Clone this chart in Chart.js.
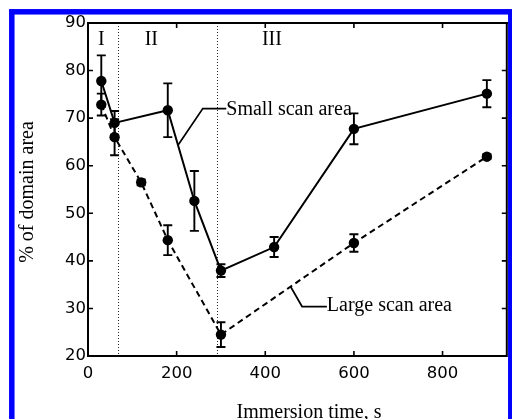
<!DOCTYPE html>
<html><head><meta charset="utf-8">
<script src="https://cdn.jsdelivr.net/npm/chart.js@4.4.0/dist/chart.umd.min.js"></script>
<style>html,body{margin:0;padding:0;background:#fff;}canvas{display:block;}</style>
</head><body>
<canvas id="c" width="512" height="419"></canvas>
<script>
// ---- data ----
const smallTime = [30, 60, 180, 240, 300, 420, 600, 900];
const smallArea = [77.8, 69.0, 71.65, 52.6, 37.95, 42.9, 67.75, 75.15];
const smallErr  = [5.4, 2.5, 5.65, 6.3, 1.35, 2.1, 3.25, 2.85];
const largeTime = [30, 60, 120, 180, 300, 600, 900];
const largeArea = [72.85, 66.0, 56.5, 44.35, 24.5, 43.75, 61.9];
const largeErr  = [2.3, 3.8, 0.6, 3.15, 2.6, 1.85, 0.5];
const regionBounds = [68, 290];
const regionLabels = ['I', 'II', 'III'];
const xTickValues = [0, 200, 400, 600, 800];
const yTickValues = [20, 30, 40, 50, 60, 70, 80, 90];
const seriesNames = ['Small scan area', 'Large scan area'];
const xTitle = 'Immersion time, s';
const yTitle = '% of domain area';

// ---- layout (data coordinates for annotations) ----
const regionLabelPos = [[30, 86.4], [143, 86.4], [415, 86.4]];
const smallLeader = [[203, 64.3], [259, 72.0], [312, 72.0]];
const largeLeader = [[457, 34.6], [483, 30.4], [539, 30.4]];

const SERIF = '"Liberation Serif","Times New Roman",serif';
const SANS = '"DejaVu Sans","Liberation Sans",sans-serif';

function pts(xs, ys) { return xs.map((x, i) => ({x: x, y: ys[i]})); }

const decor = {
  id: 'decor',
  beforeDatasetsDraw(chart) {
    const ctx = chart.ctx, xs = chart.scales.x, ys = chart.scales.y, a = chart.chartArea;
    ctx.save();
    // dotted region boundaries
    ctx.strokeStyle = '#222';
    ctx.lineWidth = 1;
    ctx.setLineDash([1, 2]);
    regionBounds.forEach(b => {
      const px = Math.round(xs.getPixelForValue(b)) + 0.5;
      ctx.beginPath(); ctx.moveTo(px, a.top); ctx.lineTo(px, a.bottom); ctx.stroke();
    });
    ctx.setLineDash([]);
    // error bars
    ctx.strokeStyle = '#000';
    ctx.lineWidth = 1.9;
    const bars = (t, v, e) => t.forEach((tt, i) => {
      const px = xs.getPixelForValue(tt);
      const y1 = ys.getPixelForValue(v[i] + e[i]);
      const y2 = ys.getPixelForValue(v[i] - e[i]);
      ctx.beginPath();
      ctx.moveTo(px, y1); ctx.lineTo(px, y2);
      ctx.moveTo(px - 4.5, y1); ctx.lineTo(px + 4.5, y1);
      ctx.moveTo(px - 4.5, y2); ctx.lineTo(px + 4.5, y2);
      ctx.stroke();
    });
    bars(smallTime, smallArea, smallErr);
    bars(largeTime, largeArea, largeErr);
    ctx.restore();
  },
  afterDraw(chart) {
    const ctx = chart.ctx, xs = chart.scales.x, ys = chart.scales.y, a = chart.chartArea;
    ctx.save();
    ctx.strokeStyle = '#000';
    ctx.lineWidth = 2;
    // top and right spines
    ctx.beginPath();
    ctx.moveTo(a.left - 1, a.top); ctx.lineTo(a.right + 2, a.top);
    ctx.moveTo(a.right, a.top); ctx.lineTo(a.right, a.bottom + 1);
    ctx.stroke();
    // inward ticks
    ctx.lineWidth = 1.6;
    ctx.beginPath();
    xs.ticks.forEach(t => {
      const px = xs.getPixelForValue(t.value);
      if (px <= a.left + 1) return;
      ctx.moveTo(px, a.bottom); ctx.lineTo(px, a.bottom - 5);
      ctx.moveTo(px, a.top); ctx.lineTo(px, a.top + 5);
    });
    ys.ticks.forEach(t => {
      const py = ys.getPixelForValue(t.value);
      if (py >= a.bottom - 1 || py <= a.top + 1) return;
      ctx.moveTo(a.left, py); ctx.lineTo(a.left + 5, py);
      ctx.moveTo(a.right, py); ctx.lineTo(a.right - 5, py);
    });
    ctx.stroke();
    // leaders
    ctx.lineWidth = 1.7;
    [smallLeader, largeLeader].forEach(L => {
      ctx.beginPath();
      L.forEach((p, i) => {
        const px = xs.getPixelForValue(p[0]), py = ys.getPixelForValue(p[1]);
        if (i === 0) ctx.moveTo(px, py); else ctx.lineTo(px, py);
      });
      ctx.stroke();
    });
    // texts
    ctx.fillStyle = '#000';
    ctx.font = '20px ' + SERIF;
    ctx.textBaseline = 'middle';
    ctx.textAlign = 'center';
    regionLabels.forEach((s, i) => {
      ctx.fillText(s, xs.getPixelForValue(regionLabelPos[i][0]), ys.getPixelForValue(regionLabelPos[i][1]));
    });
    ctx.textAlign = 'left';
    ctx.fillText(seriesNames[0], xs.getPixelForValue(smallLeader[2][0]), ys.getPixelForValue(smallLeader[2][1]) + 1);
    ctx.fillText(seriesNames[1], xs.getPixelForValue(largeLeader[2][0]), ys.getPixelForValue(largeLeader[2][1]) - 1);
    // axis titles
    ctx.textAlign = 'center';
    ctx.textBaseline = 'alphabetic';
    ctx.fillText(xTitle, 309, 418);
    ctx.save();
    ctx.translate(33, 192);
    ctx.rotate(-Math.PI / 2);
    ctx.fillText(yTitle, 0, 0);
    ctx.restore();
    // blue frame
    ctx.strokeStyle = '#0000ff';
    ctx.lineWidth = 5.5;
    ctx.strokeRect(11.8, 11.8, 499, 500);
    ctx.restore();
  }
};

new Chart(document.getElementById('c'), {
  type: 'line',
  data: {
    datasets: [
      { label: seriesNames[0], data: pts(smallTime, smallArea), borderColor: '#000', backgroundColor: '#000',
        borderWidth: 2, pointRadius: 5.2, pointBackgroundColor: '#000', pointBorderWidth: 0, tension: 0 },
      { label: seriesNames[1], data: pts(largeTime, largeArea), borderColor: '#000', backgroundColor: '#000',
        borderWidth: 2, borderDash: [6, 4], pointRadius: 5.2, pointBackgroundColor: '#000', pointBorderWidth: 0, tension: 0 }
    ]
  },
  options: {
    responsive: false, animation: false, devicePixelRatio: 1,
    layout: { padding: { top: 23, right: 5, left: 0, bottom: 0 } },
    plugins: { legend: { display: false }, tooltip: { enabled: false } },
    scales: {
      x: {
        type: 'linear', min: 0, max: 945,
        afterFit: s => { s.height = 63; },
        afterBuildTicks: s => { s.ticks = xTickValues.map(v => ({value: v})); },
        grid: { display: false, drawTicks: false },
        border: { display: true, color: '#000', width: 2 },
        ticks: { color: '#000', font: { family: SANS, size: 16.5 }, padding: 8, maxRotation: 0, includeBounds: false }
      },
      y: {
        type: 'linear', min: 20, max: 90,
        afterFit: s => { s.width = 88; },
        afterBuildTicks: s => { s.ticks = yTickValues.map(v => ({value: v})); },
        grid: { display: false, drawTicks: false },
        border: { display: true, color: '#000', width: 2 },
        ticks: { color: '#000', font: { family: SANS, size: 16.5 }, padding: 2 }
      }
    }
  },
  plugins: [decor]
});
</script>
</body></html>
